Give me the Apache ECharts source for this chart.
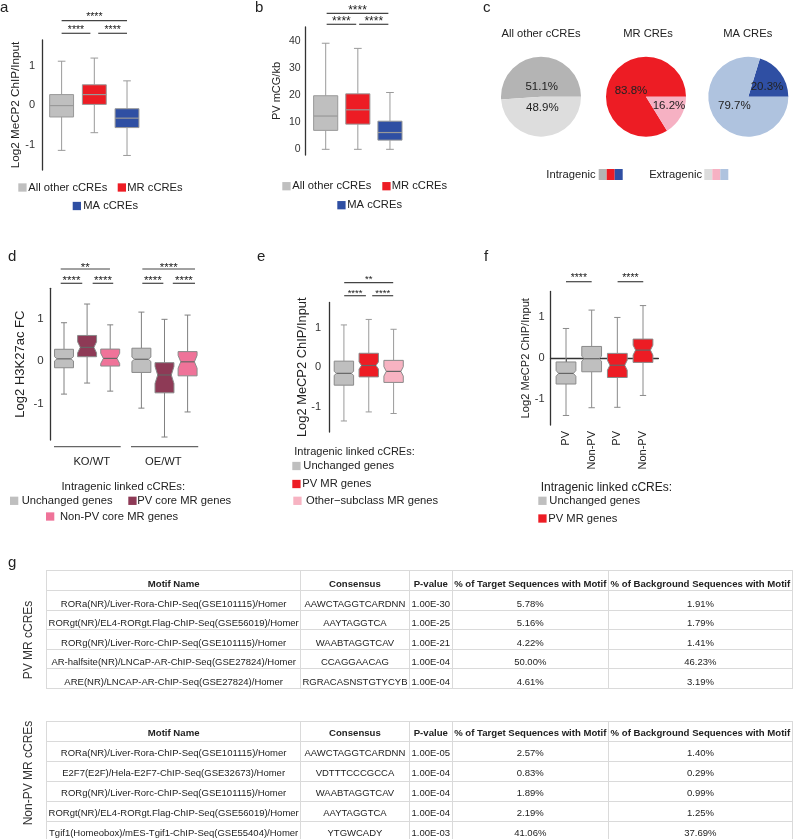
<!DOCTYPE html>
<html>
<head>
<meta charset="utf-8">
<script src="https://cdn.jsdelivr.net/npm/echarts@6/dist/echarts.min.js"></script>
<style>
html,body{margin:0;padding:0;background:#fff;}
#chart{position:absolute;left:0;top:0;width:794px;height:839px;}
table.motif{position:absolute;left:46px;border-collapse:collapse;table-layout:fixed;width:747px;
  font-family:'Liberation Sans',Arial,sans-serif;font-size:9.5px;color:#222;}
table.motif td,table.motif th{border:1px solid #dadada;padding:0;text-align:center;white-space:nowrap;
  overflow:visible;vertical-align:bottom;line-height:11px;}
table.motif th{font-weight:bold;font-size:9.6px;}
</style>
</head>
<body>
<div id="chart"></div>
<script>
// ---------------- DATA ----------------
// box stats: [lower whisker, Q1, median, Q3, upper whisker]
const aCategories = ['All other cCREs', 'MR cCREs', 'MA cCREs'];
const aBoxes = [[-1.15, -0.30, -0.01, 0.27, 1.12], [-0.70, 0.02, 0.27, 0.52, 1.20], [-1.28, -0.57, -0.33, -0.09, 0.62]];
const aYTicks = [-1, 0, 1];
const aSignif = ['****', '****', '****'];

const bCategories = ['All other cCREs', 'MR cCREs', 'MA cCREs'];
const bBoxes = [[0, 7.0, 12.3, 19.8, 39.2], [0, 9.3, 14.6, 20.5, 37.3], [0, 3.4, 6.2, 10.4, 21.0]];
const bYTicks = [0, 10, 20, 30, 40];
const bSignif = ['****', '****', '****'];

const cTitles = ['All other cCREs', 'MR CREs', 'MA CREs'];
const cIntragenic = [51.1, 83.8, 20.3];
const cExtragenic = [48.9, 16.2, 79.7];
const cLegend = ['Intragenic', 'Extragenic'];

const dGroups = ['KO/WT', 'OE/WT'];
const dCategories = ['Unchanged genes', 'PV core MR genes', 'Non-PV core MR genes'];
const dBoxesKO = [[-0.78, -0.16, 0.05, 0.275, 0.90], [-0.52, 0.10, 0.32, 0.60, 1.34], [-0.71, -0.12, 0.06, 0.28, 0.85]];
const dBoxesOE = [[-1.11, -0.27, 0.04, 0.30, 1.15], [-1.79, -0.75, -0.33, -0.04, 0.98], [-1.20, -0.35, -0.02, 0.22, 1.08]];
const dNotchKO = [0.05, 0.13, 0.12];
const dNotchOE = [0.05, 0.20, 0.15];
const dYTicks = [-1, 0, 1];
const dSignifKO = ['**', '****', '****'];
const dSignifOE = ['****', '****', '****'];

const eCategories = ['Unchanged genes', 'PV MR genes', 'Other\u2212subclass MR genes'];
const eBoxes = [[-1.36, -0.45, -0.15, 0.16, 1.08], [-1.13, -0.24, 0.05, 0.36, 1.22], [-1.17, -0.38, -0.10, 0.18, 0.97]];
const eNotch = [0.05, 0.09, 0.12];
const eYTicks = [-1, 0, 1];
const eSignif = ['**', '****', '****'];

const fCategories = ['Unchanged genes', 'PV MR genes'];
const fXLabels = ['PV', 'Non-PV', 'PV', 'Non-PV'];
const fBoxes = [[-1.40, -0.63, -0.37, -0.09, 0.73], [-1.21, -0.33, -0.01, 0.29, 1.18], [-1.20, -0.47, -0.17, 0.12, 1.00], [-0.91, -0.10, 0.20, 0.47, 1.29]];
const fNotch = [0.07, 0.06, 0.12, 0.12];
const fYTicks = [-1, 0, 1];
const fSignif = ['****', '****'];

const legendTitle = 'Intragenic linked cCREs:';

const tableHeader = ['Motif Name', 'Consensus', 'P-value', '% of Target Sequences with Motif', '% of Background Sequences with Motif'];
const pvMotifs = [
  ['RORa(NR)/Liver-Rora-ChIP-Seq(GSE101115)/Homer', 'AAWCTAGGTCARDNN', '1.00E-30', '5.78%', '1.91%'],
  ['RORgt(NR)/EL4-RORgt.Flag-ChIP-Seq(GSE56019)/Homer', 'AAYTAGGTCA', '1.00E-25', '5.16%', '1.79%'],
  ['RORg(NR)/Liver-Rorc-ChIP-Seq(GSE101115)/Homer', 'WAABTAGGTCAV', '1.00E-21', '4.22%', '1.41%'],
  ['AR-halfsite(NR)/LNCaP-AR-ChIP-Seq(GSE27824)/Homer', 'CCAGGAACAG', '1.00E-04', '50.00%', '46.23%'],
  ['ARE(NR)/LNCAP-AR-ChIP-Seq(GSE27824)/Homer', 'RGRACASNSTGTYCYB', '1.00E-04', '4.61%', '3.19%']
];
const nonPvMotifs = [
  ['RORa(NR)/Liver-Rora-ChIP-Seq(GSE101115)/Homer', 'AAWCTAGGTCARDNN', '1.00E-05', '2.57%', '1.40%'],
  ['E2F7(E2F)/Hela-E2F7-ChIP-Seq(GSE32673)/Homer', 'VDTTTCCCGCCA', '1.00E-04', '0.83%', '0.29%'],
  ['RORg(NR)/Liver-Rorc-ChIP-Seq(GSE101115)/Homer', 'WAABTAGGTCAV', '1.00E-04', '1.89%', '0.99%'],
  ['RORgt(NR)/EL4-RORgt.Flag-ChIP-Seq(GSE56019)/Homer', 'AAYTAGGTCA', '1.00E-04', '2.19%', '1.25%'],
  ['Tgif1(Homeobox)/mES-Tgif1-ChIP-Seq(GSE55404)/Homer', 'YTGWCADY', '1.00E-03', '41.06%', '37.69%']
];
const tableRowLabels = ['PV MR cCREs', 'Non-PV MR cCREs'];

// ---------------- STYLE ----------------
const FONT = "'Liberation Sans', Arial, Helvetica, sans-serif";
const C = {
  gray: '#bfbfbf', red: '#ed1c24', blue: '#2f4fa3', plum: '#8e3a56', pinkD: '#ef7399', pinkE: '#f7b3c2',
  pieGrayDark: '#b4b4b4', pieGrayLight: '#dddddd', piePink: '#f6b1c3', pieBlueLight: '#afc3df'
};

function makeBox(o) {
  return function (params, api) {
    const x = api.value(0);
    const low = api.value(1), q1 = api.value(2), med = api.value(3), q3 = api.value(4), high = api.value(5);
    const notch = api.value(6);
    const Y = v => api.coord([x, v])[1];
    const cx = api.coord([x, med])[0];
    const hw = api.size([o.width, 0])[0] / 2;
    const ch = hw * o.cap;
    const fill = api.visual('color');
    const ws = { stroke: o.whisker, lineWidth: 1 };
    const ch1 = [];
    ch1.push({ type: 'line', shape: { x1: cx, y1: Y(high), x2: cx, y2: Y(q3) }, style: ws });
    ch1.push({ type: 'line', shape: { x1: cx, y1: Y(q1), x2: cx, y2: Y(low) }, style: ws });
    ch1.push({ type: 'line', shape: { x1: cx - ch, y1: Y(high), x2: cx + ch, y2: Y(high) }, style: ws });
    ch1.push({ type: 'line', shape: { x1: cx - ch, y1: Y(low), x2: cx + ch, y2: Y(low) }, style: ws });
    let pts, m1, m2;
    const yq3 = Y(q3), yq1 = Y(q1), ym = Y(med);
    if (o.notched && notch > 0) {
      const ind = hw * o.indent;
      const nu = Y(Math.min(med + notch, q3)), nd = Y(Math.max(med - notch, q1));
      pts = [[cx - hw, yq3], [cx + hw, yq3], [cx + hw, nu], [cx + hw - ind, ym], [cx + hw, nd], [cx + hw, yq1],
             [cx - hw, yq1], [cx - hw, nd], [cx - hw + ind, ym], [cx - hw, nu]];
      m1 = cx - hw + ind; m2 = cx + hw - ind;
    } else {
      pts = [[cx - hw, yq3], [cx + hw, yq3], [cx + hw, yq1], [cx - hw, yq1]];
      m1 = cx - hw; m2 = cx + hw;
    }
    ch1.push({ type: 'polygon', shape: { points: pts }, style: { fill: fill, stroke: o.border, lineWidth: 1 } });
    ch1.push({ type: 'line', shape: { x1: m1, y1: ym, x2: m2, y2: ym }, style: { stroke: o.median, lineWidth: 1.2 } });
    return { type: 'group', children: ch1 };
  };
}

function boxSeries(name, g, items, color, o) {
  return {
    type: 'custom', name: name, xAxisIndex: g, yAxisIndex: g, data: items, silent: true,
    encode: { x: 0, y: [1, 5] }, itemStyle: { color: color }, renderItem: makeBox(o), clip: false
  };
}

function yAx(g, min, max, ticks, name, gap, nfs, margin, lfs) {
  return {
    type: 'value', gridIndex: g, min: min, max: max,
    axisLine: { show: true, lineStyle: { color: '#333', width: 1.3 } },
    axisTick: { show: false }, splitLine: { show: false },
    axisLabel: { customValues: ticks, fontSize: lfs, color: '#333', margin: margin, fontFamily: FONT },
    name: name, nameLocation: 'middle', nameGap: gap, nameMoveOverlap: false,
    nameTextStyle: { fontSize: nfs, color: '#222', fontFamily: FONT }
  };
}
function xHidden(g, min, max) { return { type: 'value', gridIndex: g, min: min, max: max, show: false }; }

const optsAB = { width: 0.74, cap: 0.32, notched: false, whisker: '#9a9a9a', border: '#999', median: '#999' };
const optsD = { width: 0.82, cap: 0.32, notched: true, indent: 0.28, whisker: '#808080', border: '#8a8a8a', median: '#666' };
const optsE = { width: 0.78, cap: 0.32, notched: true, indent: 0.25, whisker: '#9a9a9a', border: '#8a8a8a', median: '#666' };
const optsF = { width: 0.77, cap: 0.32, notched: true, indent: 0.25, whisker: '#8a8a8a', border: '#8a8a8a', median: '#666' };

const aColors = [C.gray, C.red, C.blue];
const dColors = [C.gray, C.plum, C.pinkD];
const eColors = [C.gray, C.red, C.pinkE];
const fColors = [C.gray, C.red];
const dGroupOffset = 3.35;

const series = [];
aCategories.forEach((n, i) => series.push(boxSeries(n, 0, [[i + 1, ...aBoxes[i], 0]], aColors[i], { ...optsAB, width: 0.73 })));
bCategories.forEach((n, i) => series.push(boxSeries(n, 1, [[i + 1, ...bBoxes[i], 0]], aColors[i], { ...optsAB, width: 0.75 })));
dCategories.forEach((n, i) => series.push(boxSeries(n, 2, [
  [i + 1, ...dBoxesKO[i], dNotchKO[i]],
  [i + 1 + dGroupOffset, ...dBoxesOE[i], dNotchOE[i]]
], dColors[i], optsD)));
eCategories.forEach((n, i) => series.push(boxSeries(n, 3, [[i + 1, ...eBoxes[i], eNotch[i]]], eColors[i], optsE)));
fCategories.forEach((n, i) => series.push(boxSeries(n, 4, [
  [2 * i + 1, ...fBoxes[2 * i], fNotch[2 * i]],
  [2 * i + 2, ...fBoxes[2 * i + 1], fNotch[2 * i + 1]]
], fColors[i], optsF)));

// pies
const pieCenters = [[541, 96.7], [646, 96.7], [748.3, 96.7]];
const pieInColors = [C.pieGrayDark, C.red, C.blue];
const pieExColors = [C.pieGrayLight, C.piePink, C.pieBlueLight];
// label offsets from the pie centre (px)
const pieLabelOffset = [[[0.7, -9.4], [1.3, 11.3]], [[-15, -6], [23, 9.3]], [[18.7, -9.4], [-14, 9.3]]];
cTitles.forEach((t, i) => {
  series.push({
    type: 'pie', name: t, center: pieCenters[i], radius: 40, startAngle: 0, clockwise: false, silent: true,
    avoidLabelOverlap: false, emphasis: { disabled: true },
    itemStyle: { borderWidth: 0 },
    label: { show: true, position: 'inside', formatter: p => p.value.toFixed(1) + '%', fontSize: 11.5, color: '#222', fontFamily: FONT },
    labelLine: { show: false },
    labelLayout: p => ({
      x: pieCenters[i][0] + pieLabelOffset[i][p.dataIndex][0],
      y: pieCenters[i][1] + pieLabelOffset[i][p.dataIndex][1],
      align: 'center', verticalAlign: 'middle'
    }),
    data: [
      { name: cLegend[0], value: cIntragenic[i], itemStyle: { color: pieInColors[i] } },
      { name: cLegend[1], value: cExtragenic[i], itemStyle: { color: pieExColors[i] } }
    ]
  });
});

const option = {
  animation: false,
  textStyle: { fontFamily: FONT, color: '#222' },
  grid: [
    { left: 42, top: 40, width: 103, height: 130, outerBoundsMode: 'none' },
    { left: 305.7, top: 27, width: 101.3, height: 128, outerBoundsMode: 'none' },
    { left: 50.7, top: 288.3, width: 149.6, height: 151.7, outerBoundsMode: 'none' },
    { left: 329, top: 302.5, width: 79.5, height: 129.5, outerBoundsMode: 'none' },
    { left: 550.5, top: 291.5, width: 107.9, height: 133.5, outerBoundsMode: 'none' }
  ],
  xAxis: [
    xHidden(0, 0.4, 3.55),
    xHidden(1, 0.378, 3.53),
    xHidden(2, 0.424, 6.9),
    xHidden(3, 0.4, 3.6),
    {
      type: 'value', gridIndex: 4, min: 0.396, max: 4.6,
      axisLine: { show: true, lineStyle: { color: '#333', width: 1.3 } },
      axisTick: { show: true, customValues: [1, 2, 3, 4], length: 4, lineStyle: { color: '#333' } },
      splitLine: { show: false },
      axisLabel: { customValues: [1, 2, 3, 4], rotate: 90, margin: 6, fontSize: 11, color: '#222', fontFamily: FONT,
        formatter: v => fXLabels[Math.round(v) - 1] }
    }
  ],
  yAxis: [
    yAx(0, -1.65, 1.66, aYTicks, 'Log2 MeCP2 ChIP/Input', 20, 11.7, 7, 11),
    yAx(1, -2.1, 45.2, bYTicks, 'PV mCG/kb', 23, 11, 5, 10.5),
    yAx(2, -1.86, 1.71, dYTicks, 'Log2 H3K27ac FC', 24, 13, 7, 11.5),
    yAx(3, -1.64, 1.65, eYTicks, 'Log2 MeCP2 ChIP/Input', 20.5, 12.9, 8, 11),
    yAx(4, -1.633, 1.635, fYTicks, 'Log2 MeCP2 ChIP/Input', 19.5, 11.1, 6, 11)
  ],
  series: series
};

const chart = echarts.init(document.getElementById('chart'), null, { renderer: 'canvas' });
chart.setOption(option);

// ---------------- ANNOTATIONS ----------------
const gfx = [];
function txt(x, y, s, fs, extra) {
  return Object.assign({ type: 'text', x: x, y: y, silent: true,
    style: Object.assign({ text: s, fontSize: fs, fill: '#222', fontFamily: FONT, align: 'left', verticalAlign: 'middle' }, extra || {}) });
}
function rect(x, y, w, h, color) {
  return { type: 'rect', silent: true, shape: { x: x, y: y, width: w, height: h }, style: { fill: color } };
}
// panel letters
[['a', 0, 8], ['b', 255, 8], ['c', 483, 8], ['d', 8, 257], ['e', 257, 257], ['f', 484, 257], ['g', 8, 563]]
  .forEach(l => gfx.push(txt(l[1], l[2], l[0], 15)));

// pie titles
cTitles.forEach((t, i) => gfx.push(txt(pieCenters[i][0] + [0, 2, -0.6][i], 34, t, 11.2, { align: 'center' })));
// pie legend
gfx.push(txt(595.5, 174.5, cLegend[0], 11.2, { align: 'right' }));
pieInColors.forEach((c, i) => gfx.push(rect(598.7 + 8 * i, 169, 8, 11, c)));
gfx.push(txt(702, 174.5, cLegend[1], 11.2, { align: 'right' }));
pieExColors.forEach((c, i) => gfx.push(rect(704.3 + 8 * i, 169, 8, 11, c)));

// box legends
function leg(x, y, color, label, tx, fs) {
  gfx.push(rect(x, y - 4.15, 8.3, 8.3, color));
  gfx.push(txt(tx, y, label, fs || 11.2));
}
leg(18.3, 187.5, aColors[0], aCategories[0], 28.3);
leg(117.7, 187.5, aColors[1], aCategories[1], 127.3);
leg(72.7, 206, aColors[2], aCategories[2], 83.3);
leg(282.3, 186.2, aColors[0], bCategories[0], 292.3);
leg(382.3, 186.2, aColors[1], bCategories[1], 391.7);
leg(337.3, 205.2, aColors[2], bCategories[2], 347.3);

gfx.push(txt(123.3, 487.3, legendTitle, 11.3, { align: 'center' }));
leg(10, 500.8, dColors[0], dCategories[0], 21.7);
leg(128.3, 500.8, dColors[1], dCategories[1], 137.3);
leg(46, 516.5, dColors[2], dCategories[2], 60);

gfx.push(txt(294.3, 451.7, legendTitle, 11));
leg(292.3, 466, eColors[0], eCategories[0], 303.3);
leg(292.3, 484, eColors[1], eCategories[1], 302.3);
leg(293.3, 500.8, eColors[2], eCategories[2], 306);

gfx.push(txt(540.7, 487.3, legendTitle, 12));
leg(538.3, 500.8, fColors[0], fCategories[0], 549.3);
leg(538.3, 518.5, fColors[1], fCategories[1], 548.3);

// significance brackets (x in data units, y in px)
const brackets = [
  { g: 0, x1: 1, x2: 3, y: 20.7, ty: 14, t: aSignif[0], fs: 10.5 },
  { g: 0, x1: 1, x2: 1.88, y: 33.3, ty: 26.7, t: aSignif[1], fs: 10.5 },
  { g: 0, x1: 2.12, x2: 3, y: 33.3, ty: 26.7, t: aSignif[2], fs: 10.5 },
  { g: 1, x1: 1.03, x2: 2.95, y: 13.3, ty: 6.7, t: bSignif[0], fs: 12 },
  { g: 1, x1: 1.03, x2: 1.95, y: 24.3, ty: 18.3, t: bSignif[1], fs: 12 },
  { g: 1, x1: 2.04, x2: 2.95, y: 24.3, ty: 18.3, t: bSignif[2], fs: 12 },
  { g: 2, x1: 0.857, x2: 2.99, y: 269, ty: 264, t: dSignifKO[0], fs: 11.5 },
  { g: 2, x1: 0.857, x2: 1.79, y: 283.3, ty: 276.7, t: dSignifKO[1], fs: 11.5 },
  { g: 2, x1: 2.24, x2: 3.13, y: 283.3, ty: 276.7, t: dSignifKO[2], fs: 11.5 },
  { g: 2, x1: 4.39, x2: 6.67, y: 269, ty: 264, t: dSignifOE[0], fs: 11.5 },
  { g: 2, x1: 4.39, x2: 5.30, y: 283.3, ty: 276.7, t: dSignifOE[1], fs: 11.5 },
  { g: 2, x1: 5.71, x2: 6.67, y: 283.3, ty: 276.7, t: dSignifOE[2], fs: 11.5 },
  { g: 3, x1: 1.012, x2: 2.984, y: 282.7, ty: 276.7, t: eSignif[0], fs: 9.5 },
  { g: 3, x1: 1.012, x2: 1.885, y: 295.7, ty: 290, t: eSignif[1], fs: 9.5 },
  { g: 3, x1: 2.139, x2: 2.984, y: 295.7, ty: 290, t: eSignif[2], fs: 9.5 },
  { g: 4, x1: 1.0, x2: 2.0, y: 281.7, ty: 275, t: fSignif[0], fs: 10.5 },
  { g: 4, x1: 3.01, x2: 4.01, y: 281.7, ty: 275, t: fSignif[1], fs: 10.5 }
];
function toPx(g, x) { return chart.convertToPixel({ xAxisIndex: g, yAxisIndex: g }, [x, 0])[0]; }
brackets.forEach(b => {
  const p1 = toPx(b.g, b.x1), p2 = toPx(b.g, b.x2);
  gfx.push({ type: 'line', silent: true, shape: { x1: p1, y1: b.y, x2: p2, y2: b.y }, style: { stroke: '#444', lineWidth: 1.2 } });
  gfx.push(txt((p1 + p2) / 2, b.ty + 0.32 * b.fs, b.t, b.fs, { align: 'center' }));
});
// d group lines + labels
[[0.567, 3.455, 2.2], [3.9, 6.81, 5.3]].forEach((gr, i) => {
  const p1 = toPx(2, gr[0]), p2 = toPx(2, gr[1]);
  gfx.push({ type: 'line', silent: true, shape: { x1: p1, y1: 446.7, x2: p2, y2: 446.7 }, style: { stroke: '#666', lineWidth: 1.2 } });
  gfx.push(txt(toPx(2, gr[2]), 462.3, dGroups[i], 11.2, { align: 'center' }));
});
// table row labels
gfx.push(txt(29, 640, tableRowLabels[0], 12, { align: 'center', fill: '#333' }));
gfx[gfx.length - 1].rotation = Math.PI / 2;
gfx.push(txt(29, 773, tableRowLabels[1], 12, { align: 'center', fill: '#333' }));
gfx[gfx.length - 1].rotation = Math.PI / 2;

chart.setOption({ graphic: gfx });

// ---------------- TABLES ----------------
const colWidths = [254.3, 108.3, 43.4, 155.6, 184.7];
function buildTable(top, rows, headH, rowH, padB) {
  const t = document.createElement('table');
  t.className = 'motif';
  t.style.top = top + 'px';
  const cg = document.createElement('colgroup');
  colWidths.forEach(w => { const c = document.createElement('col'); c.style.width = w + 'px'; cg.appendChild(c); });
  t.appendChild(cg);
  const hr = document.createElement('tr');
  hr.style.height = headH + 'px';
  tableHeader.forEach(h => { const th = document.createElement('th'); th.textContent = h; th.style.paddingBottom = padB + 'px'; hr.appendChild(th); });
  t.appendChild(hr);
  rows.forEach(r => {
    const tr = document.createElement('tr');
    tr.style.height = rowH + 'px';
    r.forEach(v => { const td = document.createElement('td'); td.textContent = v; td.style.paddingBottom = padB + 'px'; tr.appendChild(td); });
    t.appendChild(tr);
  });
  document.body.appendChild(t);
}
buildTable(570, pvMotifs, 20, 19.5, 1);
buildTable(720.5, nonPvMotifs, 20, 20.1, 3);
</script>
</body>
</html>
